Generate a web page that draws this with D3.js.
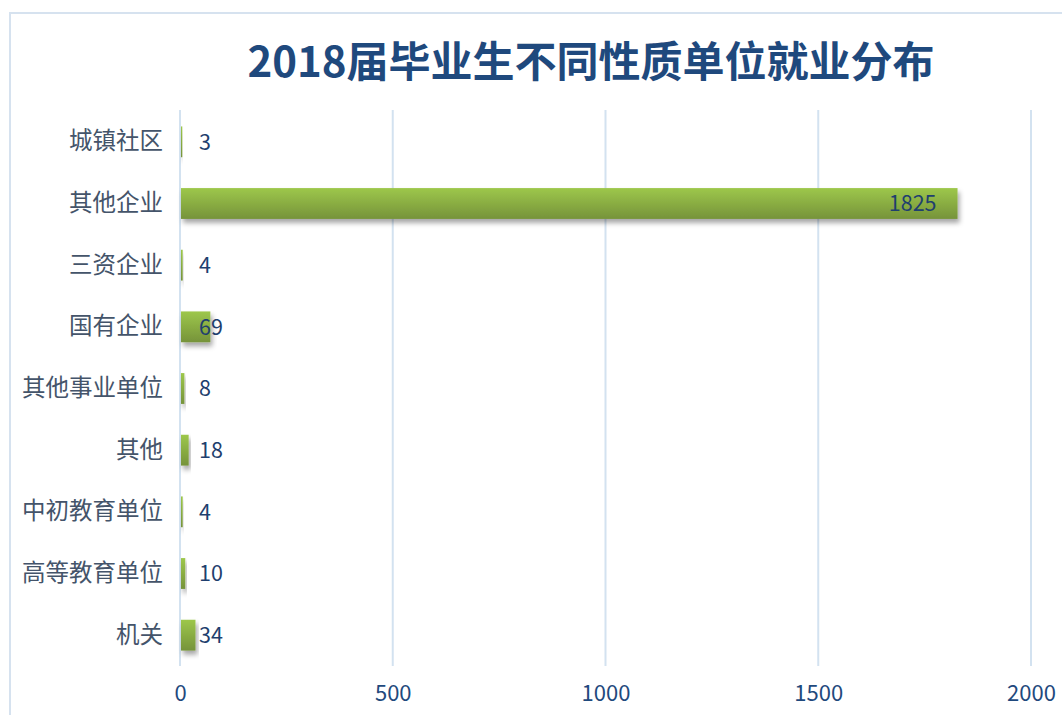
<!DOCTYPE html>
<html>
<head>
<meta charset="utf-8">
<script src="https://cdn.jsdelivr.net/npm/d3@7"></script>
<style>
  body { margin: 0; background: #fff; }
  svg { display: block; }
</style>
</head>
<body>
<script>
// Data, top to bottom as shown.
const categories = ['城镇社区', '其他企业', '三资企业', '国有企业', '其他事业单位', '其他', '中初教育单位', '高等教育单位', '机关'];
const values = [3, 1825, 4, 69, 8, 18, 4, 10, 34];
const ticks = [0, 500, 1000, 1500, 2000];
const title = '2018届毕业生不同性质单位就业分布';

const width = 1062, height = 715;
const font = '"Noto Sans CJK SC", "Noto Sans", sans-serif';

const svg = d3.select('body')
    .append('svg')
    .attr('width', width)
    .attr('height', height);

// Gradient and shadow for the bars.
const defs = svg.append('defs');
const grad = defs.append('linearGradient')
    .attr('id', 'barGrad')
    .attr('x1', 0).attr('y1', 0).attr('x2', 0).attr('y2', 1);
grad.append('stop').attr('offset', '0%').attr('stop-color', '#9dc74b');
grad.append('stop').attr('offset', '100%').attr('stop-color', '#76933a');

const shadow = defs.append('filter')
    .attr('id', 'shadow')
    .attr('x', '-20%').attr('y', '-20%')
    .attr('width', '140%').attr('height', '160%');
shadow.append('feDropShadow')
    .attr('dx', 2).attr('dy', 4)
    .attr('stdDeviation', 2.5)
    .attr('flood-color', '#000')
    .attr('flood-opacity', 0.35);

// Chart border.
svg.append('rect')
    .attr('x', 10).attr('y', 13)
    .attr('width', width + 20).attr('height', height + 20)
    .attr('fill', 'none')
    .attr('stroke', '#d6e2ef')
    .attr('stroke-width', 2);

// Title.
svg.append('text')
    .attr('x', 591)
    .attr('y', 77)
    .attr('text-anchor', 'middle')
    .attr('font-family', font)
    .attr('font-weight', 'bold')
    .attr('font-size', '42px')
    .attr('fill', '#1f497d')
    .text(title);

// Scales.
const x = d3.scaleLinear()
    .domain([0, 2000])
    .range([180, 1031]);

const y = d3.scaleBand()
    .domain(categories)
    .range([111, 666])
    .paddingInner(0.5)
    .paddingOuter(0.25);

// Gridlines.
svg.append('g')
    .selectAll('line')
    .data(ticks)
    .join('line')
        .attr('x1', d => x(d)).attr('x2', d => x(d))
        .attr('y1', 110).attr('y2', 666)
        .attr('stroke', '#d3e2f0')
        .attr('stroke-width', 2);

// X axis labels.
const xAxis = svg.append('g')
    .attr('transform', 'translate(0,666)')
    .call(d3.axisBottom(x).tickValues(ticks).tickFormat(d3.format('d')).tickSize(0).tickPadding(19));
xAxis.select('.domain').remove();
xAxis.selectAll('text')
    .attr('font-family', font)
    .attr('font-size', '22px')
    .attr('fill', '#1f497d');

// Y axis labels.
const yAxis = svg.append('g')
    .attr('transform', 'translate(180,0)')
    .call(d3.axisLeft(y).tickSize(0).tickPadding(17));
yAxis.select('.domain').remove();
yAxis.selectAll('text')
    .attr('font-family', font)
    .attr('font-size', '23.5px')
    .attr('fill', '#44546a');

// Bars.
const data = categories.map((c, i) => ({ name: c, value: values[i] }));
const maxVal = d3.max(values);

svg.append('g')
    .selectAll('rect')
    .data(data)
    .join('rect')
        .attr('x', x(0) + 1)
        .attr('y', d => y(d.name))
        .attr('width', d => Math.max(x(d.value) - x(0), 0.8))
        .attr('height', y.bandwidth())
        .attr('fill', 'url(#barGrad)')
        .attr('filter', 'url(#shadow)');

// Value labels: largest sits inside the bar end, the rest just right of the axis.
svg.append('g')
    .selectAll('text')
    .data(data)
    .join('text')
        .attr('x', d => d.value === maxVal ? x(d.value) - 20 : x(0) + 19)
        .attr('y', d => y(d.name) + y.bandwidth() / 2)
        .attr('dy', '0.36em')
        .attr('text-anchor', d => d.value === maxVal ? 'end' : 'start')
        .attr('font-family', font)
        .attr('font-size', '21.5px')
        .attr('fill', '#1f3f6e')
        .text(d => d.value);
</script>
</body>
</html>
